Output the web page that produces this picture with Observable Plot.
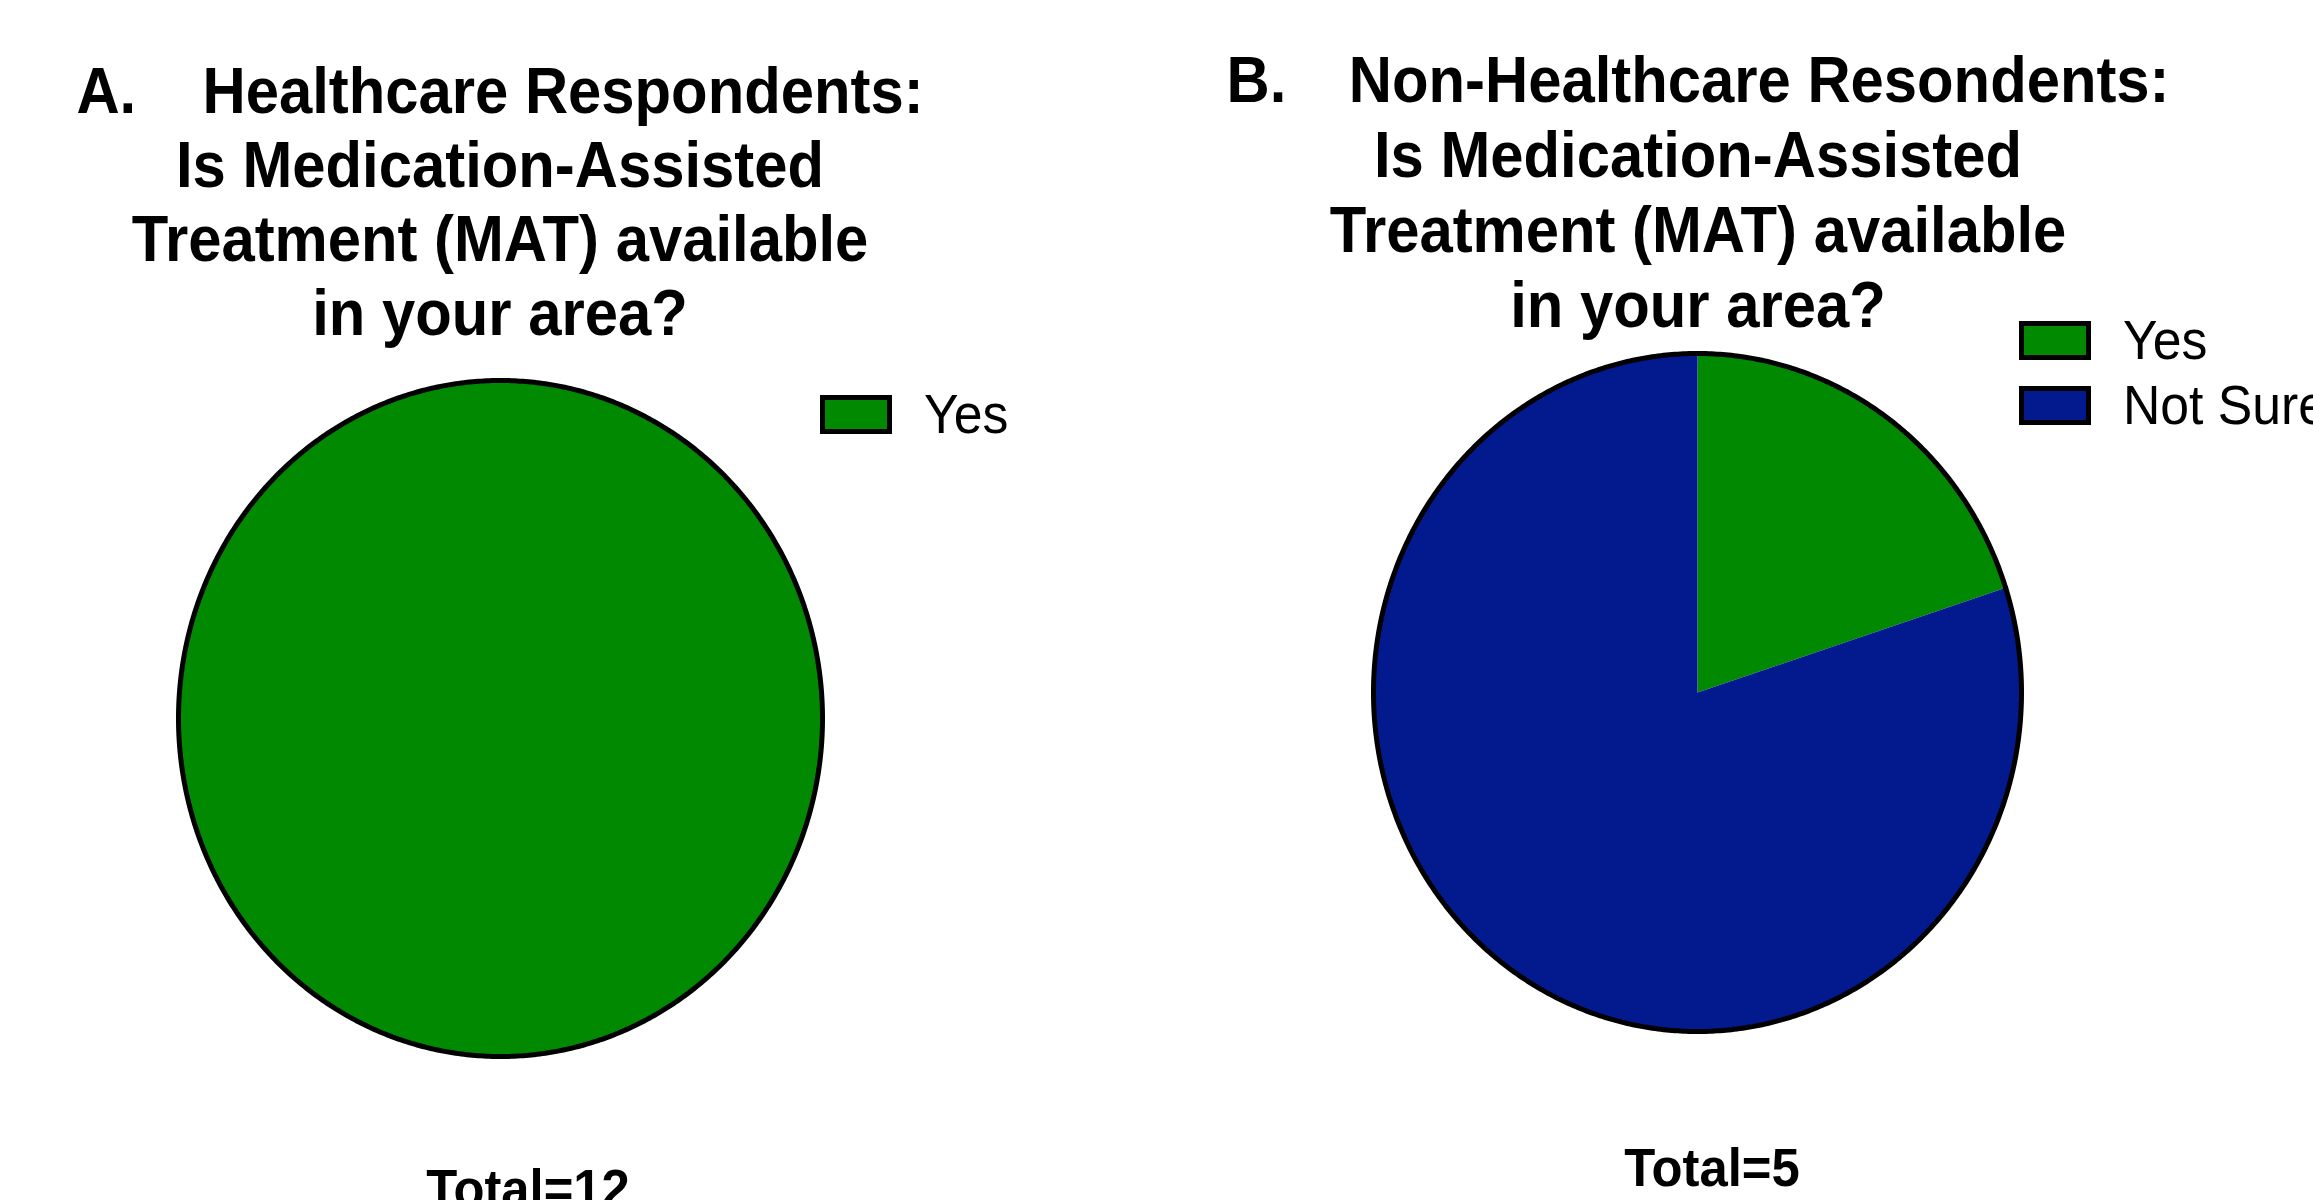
<!DOCTYPE html>
<html>
<head>
<meta charset="utf-8">
<script src="https://cdn.jsdelivr.net/npm/d3@7"></script>
<script src="https://cdn.jsdelivr.net/npm/@observablehq/plot@0.6"></script>
<style>
  html, body { margin: 0; padding: 0; background: #fff; }
  #page { position: relative; width: 2313px; height: 1200px; overflow: hidden; background: #fff;
          font-family: "Liberation Sans", Arial, Helvetica, sans-serif; color: #000; }
  .title { position: absolute; width: 1100px; text-align: center; font-weight: bold; font-size: 65px;
           white-space: nowrap; }
  .title div { transform: scaleX(0.92); }
  .total { position: absolute; width: 600px; text-align: center; font-weight: bold; font-size: 54px;
           line-height: 60px; white-space: nowrap; transform: scaleX(0.94); }
  .legend-row { position: absolute; display: flex; align-items: center; height: 42px; }
  .swatch { width: 62px; height: 29px; border: 5px solid #000; box-sizing: content-box; }
  .legend-label { font-size: 55px; margin-left: 32px; transform: scaleX(0.94); transform-origin: left center;
                  white-space: nowrap; }
</style>
</head>
<body>
<div id="page"></div>
<script>
// ---- data ----
const categories = ["Yes", "Not Sure"];
const sliceColors = ["#018a01", "#031a8f"];
const healthcareCounts = [12, 0];
const nonHealthcareCounts = [1, 4];
const panelLetters = ["A.", "B."];
const panelHeads = ["Healthcare Respondents:", "Non-Healthcare Resondents:"];
const questionLines = ["Is Medication-Assisted", "Treatment (MAT) available", "in your area?"];
const totalLabel = "Total=";

const page = document.getElementById("page");

function pieMarks(counts) {
  const rows = categories.map((c, i) => ({category: c, count: counts[i], color: sliceColors[i]}));
  const arcs = d3.pie().sort(null).value(d => d.count)(rows).filter(a => a.endAngle > a.startAngle);
  const fills = [], outlines = [];
  for (const a of arcs) {
    const span = a.endAngle - a.startAngle;
    const n = Math.max(2, Math.ceil(span / (2 * Math.PI) * 720));
    const arcPts = d3.range(n + 1).map(k => {
      const t = a.startAngle + span * k / n;
      return {category: a.data.category, x: Math.sin(t), y: Math.cos(t)};
    });
    const full = span >= 2 * Math.PI - 1e-9;
    const poly = full ? arcPts : [{category: a.data.category, x: 0, y: 0}, ...arcPts, {category: a.data.category, x: 0, y: 0}];
    fills.push(Plot.line(poly, {x: "x", y: "y", fill: a.data.color, stroke: "none", curve: "linear"}));
    outlines.push(Plot.line(arcPts, {x: "x", y: "y", fill: "none", stroke: "#000", strokeWidth: 5,
                                     strokeLinecap: "round", curve: "linear"}));
  }
  return [...fills, ...outlines];
}

function drawPie(counts, left, top, w, h) {
  const m = 10;
  const svg = Plot.plot({
    width: w + 2 * m,
    height: h + 2 * m,
    margin: m,
    x: {domain: [-1, 1], axis: null},
    y: {domain: [-1, 1], axis: null},
    style: {background: "transparent", overflow: "visible"},
    marks: pieMarks(counts)
  });
  svg.style.position = "absolute";
  svg.style.left = (left - m) + "px";
  svg.style.top = (top - m) + "px";
  page.appendChild(svg);
}

function drawTitle(idx, cx, top, lh, gap) {
  const t = document.createElement("div");
  t.className = "title";
  t.style.left = (cx - 550) + "px";
  t.style.top = top + "px";
  t.style.lineHeight = lh + "px";
  const first = document.createElement("div");
  const letter = document.createElement("span");
  letter.textContent = panelLetters[idx];
  letter.style.marginRight = gap + "px";
  const head = document.createElement("span");
  head.textContent = panelHeads[idx];
  first.appendChild(letter);
  first.appendChild(head);
  t.appendChild(first);
  for (const line of questionLines) {
    const d = document.createElement("div");
    d.textContent = line;
    t.appendChild(d);
  }
  page.appendChild(t);
}

function drawLegend(counts, left, top, rowStep) {
  let r = 0;
  categories.forEach((c, i) => {
    if (!(counts[i] > 0)) return;
    const row = document.createElement("div");
    row.className = "legend-row";
    row.style.left = left + "px";
    row.style.top = (top + r * rowStep) + "px";
    const sw = document.createElement("div");
    sw.className = "swatch";
    sw.style.background = sliceColors[i];
    const lab = document.createElement("div");
    lab.className = "legend-label";
    lab.textContent = c;
    row.appendChild(sw);
    row.appendChild(lab);
    page.appendChild(row);
    r++;
  });
}

function drawTotal(counts, cx, top) {
  const d = document.createElement("div");
  d.className = "total";
  d.style.left = (cx - 300) + "px";
  d.style.top = top + "px";
  d.textContent = totalLabel + d3.sum(counts);
  page.appendChild(d);
}

// Panel A
drawTitle(0, 500, 54, 74, 72);
drawPie(healthcareCounts, 178, 380, 644, 676);
drawLegend(healthcareCounts, 820, 393, 65);
drawTotal(healthcareCounts, 528, 1158);

// Panel B
drawTitle(1, 1698, 42, 75, 68);
drawPie(nonHealthcareCounts, 1373, 353, 648, 678);
drawLegend(nonHealthcareCounts, 2019, 319, 65);
drawTotal(nonHealthcareCounts, 1712, 1137);
</script>
</body>
</html>
